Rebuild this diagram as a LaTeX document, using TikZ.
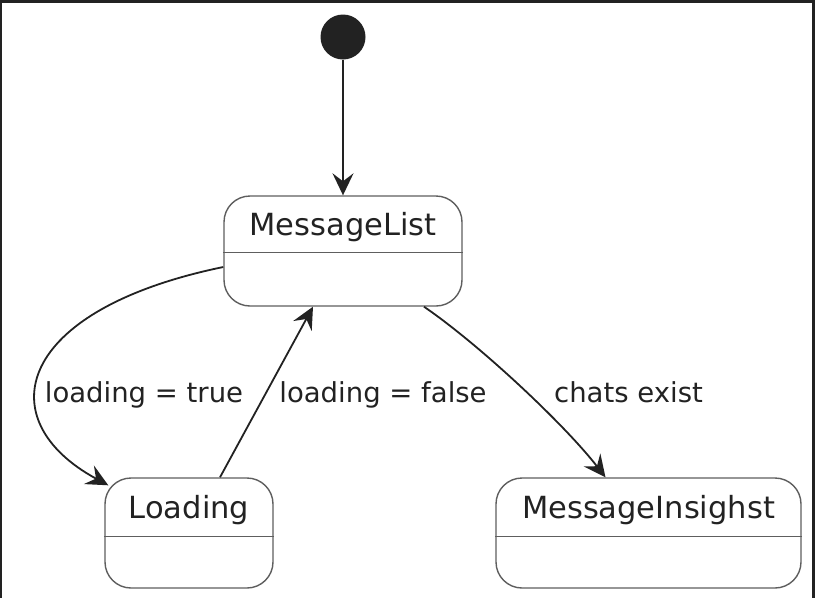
\documentclass[tikz,border=0pt]{standalone}
\usepackage{fontspec}
\setmainfont{DejaVu Sans}
\usepackage{xcolor}
\usetikzlibrary{arrows.meta}

\definecolor{ink}{HTML}{222222}
\definecolor{edge}{HTML}{5E5E5E}

\begin{document}
\begin{tikzpicture}[
  x=1pt, y=-1pt, >={Stealth[length=22pt, width=21pt, inset=8pt]},
  state/.style={draw=edge, line width=1.4pt, rounded corners=26pt,
                minimum height=110pt, inner sep=0pt},
  sname/.style={font=\fontsize{30.5}{36}\selectfont, text=ink, anchor=base},
  lbl/.style={font=\fontsize{27.5}{33}\selectfont, text=ink, anchor=base},
  ar/.style={->, line width=1.8pt, ink},
]
\useasboundingbox (0,0) rectangle (815,598);
% frame
\fill[ink] (0,0) rectangle (815,3);
\fill[ink] (0,0) rectangle (1.5,598);
\fill[ink] (811.5,0) rectangle (815,598);

\node[circle, fill=ink, minimum size=45pt, inner sep=0pt] (start) at (343,37) {};

\node[state, minimum width=238pt] (ml) at (343,251) {};
\node[state, minimum width=168pt] (ld) at (189,533) {};
\node[state, minimum width=305pt] (mi) at (648.5,533) {};

\node[sname] (mlname) at (343,235) {MessageList};
\node[sname] (ldname) at (189,518) {Loading};
\node[sname] (miname) at (648.5,518) {MessageInsighst};

\draw[edge, line width=1.4pt] ([yshift=-57pt]ml.north west) -- ([yshift=-57pt]ml.north east);
\draw[edge, line width=1.4pt] ([yshift=-59pt]ld.north west) -- ([yshift=-59pt]ld.north east);
\draw[edge, line width=1.4pt] ([yshift=-59pt]mi.north west) -- ([yshift=-59pt]mi.north east);

\draw[ar] (start) -- (ml);
\draw[ar] ([yshift=-16pt]ml.west) .. controls (15,310) and (-12,420) .. ([xshift=4pt,yshift=-8pt]ld.north west);
\draw[ar] ([xshift=31pt]ld.north) -- ([xshift=-30pt]ml.south);
\draw[ar] ([xshift=81pt]ml.south) .. controls (480,345) and (565,425) .. ([xshift=-43pt]mi.north);

\node[lbl] (ltrue) at (144,402) {loading = true};
\node[lbl] (lfalse) at (383,402) {loading = false};
\node[lbl] (lchats) at (628.5,402) {chats exist};
\end{tikzpicture}
\end{document}
